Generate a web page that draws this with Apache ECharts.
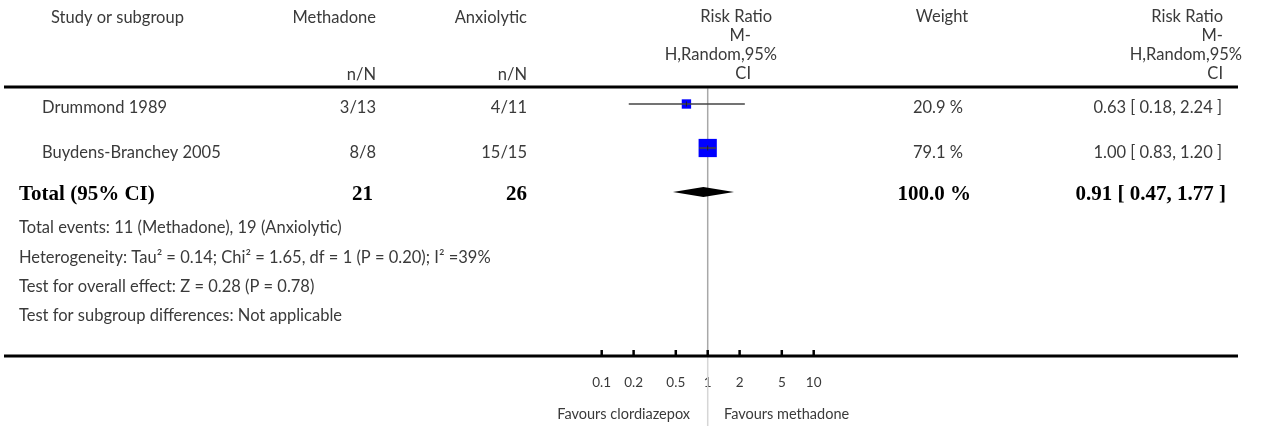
<!DOCTYPE html>
<html>
<head>
<meta charset="utf-8">
<script src="https://cdn.jsdelivr.net/npm/echarts@6/dist/echarts.min.js"></script>
<style>
html, body { margin: 0; padding: 0; background: #fff; }
#chart { width: 1266px; height: 426px; }
</style>
</head>
<body>
<div id="chart"></div>
<script>
// data
var studies = ['Drummond 1989', 'Buydens-Branchey 2005'];
var methadoneNN = ['3/13', '8/8'];
var anxiolyticNN = ['4/11', '15/15'];
var riskRatio = [0.63, 1.00];
var ciLow = [0.18, 0.83];
var ciHigh = [2.24, 1.20];
var weights = [20.9, 79.1];

var totalLabel = 'Total (95% CI)';
var totalN = [21, 26];
var totalRR = [0.91, 0.47, 1.77];   // point, low, high
var totalWeight = 100.0;

var footnotes = [
    'Total events: 11 (Methadone), 19 (Anxiolytic)',
    'Heterogeneity: Tau\u00b2 = 0.14; Chi\u00b2 = 1.65, df = 1 (P = 0.20); I\u00b2 =39%',
    'Test for overall effect: Z = 0.28 (P = 0.78)',
    'Test for subgroup differences: Not applicable'
];
var tickValues = [0.1, 0.2, 0.5, 1, 2, 5, 10];
var favours = ['Favours clordiazepox', 'Favours methadone'];

var chart = echarts.init(document.getElementById('chart'));

var FONT = '"Lato", "Open Sans", sans-serif';
var TXT = '#3a3a3a';
var rowH = 44, plotTop = 82, axisY = 356;
var decade = 106, oneX = 707.7;

function fmt(v) { return v.toFixed(2); }
function rrText(p, l, h) { return fmt(p) + ' [ ' + fmt(l) + ', ' + fmt(h) + ' ]'; }

function text(x, y, s, align, opt) {
    opt = opt || {};
    return {
        type: 'text', x: x, y: y, z: 10,
        style: {
            text: s, textAlign: align || 'left', textVerticalAlign: 'middle',
            font: (opt.bold ? 'bold ' : '') + (opt.size || 16.5) + 'px ' + (opt.family || FONT),
            fill: opt.color || TXT
        }
    };
}

var g = [];
// header
g.push(text(51, 18, 'Study or subgroup'));
g.push(text(376, 18, 'Methadone', 'right'));
g.push(text(527, 18, 'Anxiolytic', 'right'));
g.push(text(376, 75, 'n/N', 'right'));
g.push(text(527, 75, 'n/N', 'right'));
g.push(text(772, 17, 'Risk Ratio', 'right'));
g.push(text(751, 36, 'M-', 'right'));
g.push(text(777, 55, 'H,Random,95%', 'right'));
g.push(text(751, 74, 'CI', 'right'));
g.push(text(942, 17, 'Weight', 'center'));
g.push(text(1223, 17, 'Risk Ratio', 'right'));
g.push(text(1223, 36, 'M-', 'right'));
g.push(text(1242, 55, 'H,Random,95%', 'right'));
g.push(text(1223, 74, 'CI', 'right'));

// study rows
var rowTextY = [108, 153];
studies.forEach(function(s, i) {
    var y = rowTextY[i];
    g.push(text(42, y, s));
    g.push(text(376, y, methadoneNN[i], 'right'));
    g.push(text(527, y, anxiolyticNN[i], 'right'));
    g.push(text(963, y, weights[i].toFixed(1) + ' %', 'right'));
    g.push(text(1222, y, rrText(riskRatio[i], ciLow[i], ciHigh[i]), 'right'));
});

// total row
var serif = '"Liberation Serif", "DejaVu Serif", serif';
var tb = { bold: true, size: 21, family: serif, color: '#000' };
g.push(text(19, 195, totalLabel, 'left', tb));
g.push(text(373, 195, String(totalN[0]), 'right', tb));
g.push(text(527, 195, String(totalN[1]), 'right', tb));
g.push(text(971, 195, totalWeight.toFixed(1) + ' %', 'right', tb));
g.push(text(1226, 195, rrText(totalRR[0], totalRR[1], totalRR[2]), 'right', tb));

var footY = [228, 258, 287, 316];
footnotes.forEach(function(s, i) { g.push(text(19, footY[i], s)); });

g.push(text(690, 414, favours[0], 'right', { size: 14.5 }));
g.push(text(724, 414, favours[1], 'left', { size: 14.5 }));

// rules
g.push({ type: 'line', z: 20, shape: { x1: 4, y1: 87, x2: 1238, y2: 87 }, style: { stroke: '#000', lineWidth: 3 } });
g.push({ type: 'line', z: 20, shape: { x1: 4, y1: axisY, x2: 1238, y2: axisY }, style: { stroke: '#000', lineWidth: 3 } });

var yMax = (426 - plotTop) / rowH;
var yAxisRow = (axisY - plotTop) / rowH;

var squares = riskRatio.map(function(v, i) { return [v, i + 0.5, weights[i]]; });
var ciData = ciLow.map(function(v, i) { return [v, ciHigh[i], i + 0.5, riskRatio[i]]; });
var diamondData = [[totalRR[1], totalRR[0], totalRR[2], studies.length + 0.5]];
var tickData = tickValues.map(function(v) { return [v, yAxisRow]; });

var option = {
    animation: false,
    graphic: g,
    grid: { left: oneX - 2 * decade, right: 1266 - (oneX + 2 * decade), top: plotTop, bottom: 0 },
    xAxis: {
        type: 'log', logBase: 10, min: 0.01, max: 100,
        offset: -(426 - axisY),
        axisLine: { show: false },
        splitLine: { show: false },
        minorTick: { show: false },
        axisTick: { show: false },
        axisLabel: { show: true, margin: 20, customValues: tickValues, fontSize: 13.5,
            fontFamily: FONT, color: TXT, formatter: function(v) { return String(v); } }
    },
    yAxis: { type: 'value', inverse: true, min: 0, max: yMax, show: false },
    series: [
        {
            type: 'line', silent: true, symbol: 'none', z: 1,
            data: [[1, 0.14], [1, yAxisRow]],
            lineStyle: { color: '#a8a8a8', width: 1.5 }
        },
        {
            type: 'line', silent: true, symbol: 'none', z: 1,
            data: [[1, yAxisRow], [1, yMax]],
            lineStyle: { color: '#d6d6d6', width: 1.5 }
        },
        {
            // axis ticks, pointing up from the bottom rule
            type: 'custom', z: 5, silent: true,
            renderItem: function(params, api) {
                var p = api.coord([api.value(0), api.value(1)]);
                return { type: 'line', shape: { x1: p[0], y1: p[1], x2: p[0], y2: p[1] - 6 },
                    style: { stroke: '#000', lineWidth: 2.5 } };
            },
            encode: { x: 0, y: 1 },
            data: tickData
        },
        {
            type: 'scatter', symbol: 'rect', z: 3,
            symbolSize: function(d) { return 2.05 * Math.sqrt(d[2]); },
            itemStyle: { color: '#0000ff', opacity: 1 },
            data: squares
        },
        {
            // confidence intervals with a small mark at the estimate
            type: 'custom', z: 4,
            renderItem: function(params, api) {
                var a = api.coord([api.value(0), api.value(2)]);
                var b = api.coord([api.value(1), api.value(2)]);
                var p = api.coord([api.value(3), api.value(2)]);
                return { type: 'group', children: [
                    { type: 'line', shape: { x1: a[0], y1: a[1], x2: b[0], y2: b[1] },
                        style: { stroke: '#444', lineWidth: 1.5 } },
                    { type: 'line', shape: { x1: p[0], y1: p[1] - 2.5, x2: p[0], y2: p[1] + 2.5 },
                        style: { stroke: '#222', lineWidth: 1 } }
                ] };
            },
            encode: { x: [0, 1, 3], y: 2 },
            data: ciData
        },
        {
            type: 'custom', z: 4,
            renderItem: function(params, api) {
                var y = api.value(3);
                var l = api.coord([api.value(0), y]);
                var m = api.coord([api.value(1), y]);
                var h = api.coord([api.value(2), y]);
                return { type: 'polygon',
                    shape: { points: [[l[0], l[1]], [m[0], m[1] - 5], [h[0], h[1]], [m[0], m[1] + 5]] },
                    style: { fill: '#000' } };
            },
            encode: { x: [0, 1, 2], y: 3 },
            data: diamondData
        }
    ]
};
chart.setOption(option);
</script>
</body>
</html>
